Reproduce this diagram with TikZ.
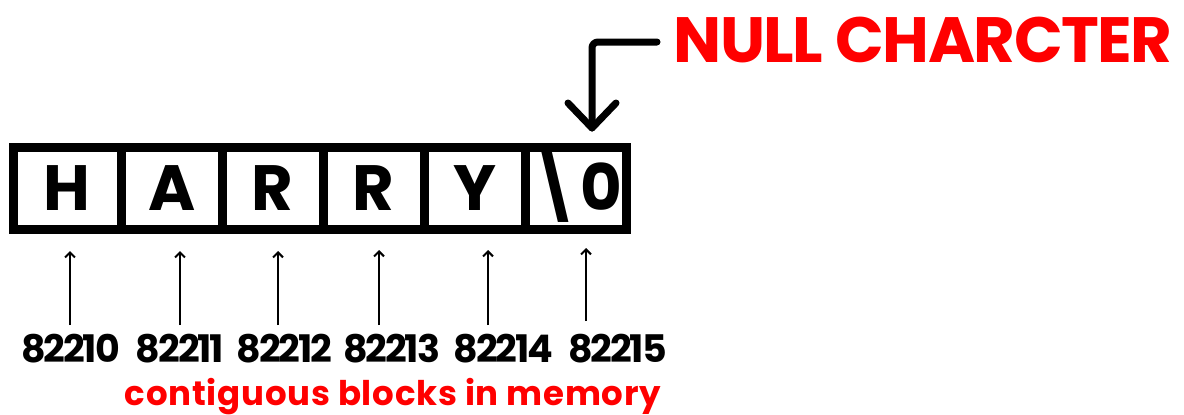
\documentclass[tikz,border=0pt]{standalone}
\usepackage{fontspec}
\setmainfont{Poppins}
\newfontfamily\popnum{Poppins}[LetterSpace=-5.5]
\newfontfamily\popred{Poppins}[LetterSpace=2.2]
\newfontfamily\popnull{Poppins}[LetterSpace=-2.3]
\usetikzlibrary{arrows.meta}
\definecolor{nullred}{HTML}{FF0000}
\begin{document}
\begin{tikzpicture}[x=1pt,y=-1pt,
  cellbox/.style={draw=black,line width=9pt,fill=white,inner sep=0pt,
    minimum height=82pt,text height=45pt,text depth=0pt,
    font=\bfseries\fontsize{64}{70}\selectfont},
  addrtext/.style={anchor=base,inner sep=0pt,font=\popnum\bfseries\fontsize{38}{40}\selectfont},
  addrarrow/.style={line width=2pt,-{Straight Barb[length=5pt,width=10pt]}},
  bigarrow/.style={line width=7pt,line cap=round,line join=round}
]
\useasboundingbox (0,0) rectangle (1184,415);
% cells
\node[cellbox,minimum width=108.5pt] (c1) at (67.25,188) {H};
\node[cellbox,minimum width=101pt] (c2) at (172,188) {A};
\node[cellbox,minimum width=100.5pt] (c3) at (272.75,188) {R};
\node[cellbox,minimum width=101pt] (c4) at (373.5,188) {R};
\node[cellbox,minimum width=101.5pt] (c5) at (474.75,188) {Y};
\node[cellbox,minimum width=100.5pt] (c6) at (575.75,188) {\textbackslash 0};
% null character label
\node[anchor=base,inner sep=0pt,text=nullred,font=\popnull\bfseries\fontsize{64}{70}\selectfont] (nul) at (923,62) {NULL CHARCTER};
\coordinate (ns) at (657,42);
\coordinate (ntip) at (592,128);
\draw[bigarrow,rounded corners=6pt] (ns) -| (ntip);
\draw[bigarrow] (ntip) ++(-24,-25) -- (ntip) -- ++(24,-25);
% addresses
\node[addrtext] (n1) at (70.5,362) {82210};
\node[addrtext] (n2) at (180,362) {82211};
\node[addrtext] (n3) at (284.5,362) {82212};
\node[addrtext] (n4) at (391.5,362) {82213};
\node[addrtext] (n5) at (503.5,362) {82214};
\node[addrtext] (n6) at (617.5,362) {82215};
\foreach \i/\x/\b/\t in {1/70/325/251,2/180/325/251,3/278/325/251,4/379/325/250,5/488/325/250,6/586/321/248}{
  \coordinate (b\i) at (\x,\b);
  \coordinate (t\i) at (\x,\t);
  \draw[addrarrow] (b\i) -- (t\i);
}
\node[anchor=base,inner sep=0pt,text=nullred,font=\popred\bfseries\fontsize{34}{36}\selectfont] (mem) at (393,405) {contiguous blocks in memory};
\end{tikzpicture}
\end{document}
